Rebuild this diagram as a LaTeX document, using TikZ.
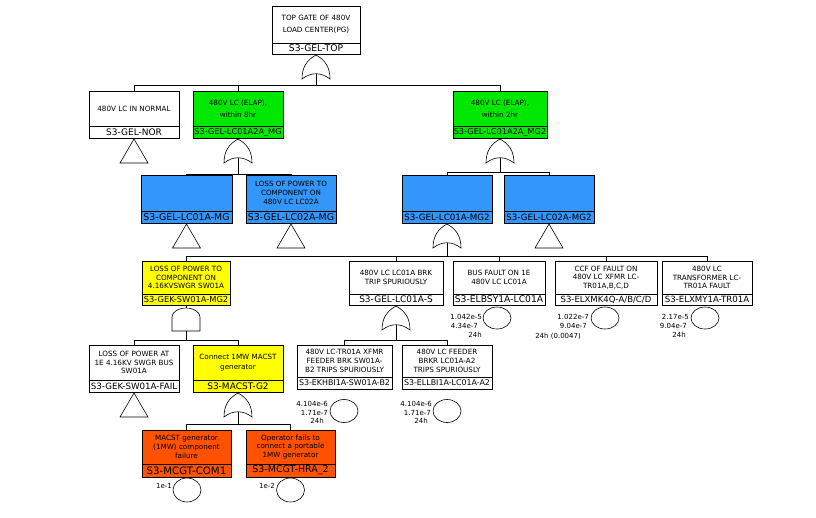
\documentclass[tikz,border=0pt]{standalone}
\usepackage{fontspec}
\setmainfont{DejaVu Sans}
\usetikzlibrary{shapes.geometric}
\definecolor{evgreen}{RGB}{0,232,0}
\definecolor{evblue}{RGB}{51,150,250}
\definecolor{evyellow}{RGB}{255,255,0}
\definecolor{evorange}{RGB}{255,82,0}
\newcommand\idf[1]{\fontsize{#1}{#1}\selectfont}
\tikzset{
  desc/.style={draw=black, line width=0.8pt, anchor=north, inner sep=0pt, outer sep=0pt,
    align=center, font=\fontsize{7.2}{8.7}\selectfont, minimum width=90, minimum height=35, fill=white},
  idb/.style={draw=black, line width=0.8pt, anchor=north, inner sep=0pt, outer sep=0pt,
    minimum width=90, minimum height=12, fill=white},
  gate/.style={draw=black, line width=0.6pt},
  conn/.style={draw=black, line width=0.8pt},
  be/.style={ellipse, draw=black, line width=0.6pt, minimum width=28, minimum height=22, inner sep=0pt},
  pl/.style={anchor=east, inner sep=0pt, font=\fontsize{7}{8}\selectfont},
}
% OR gate: #1 source node, #2 output coordinate name
\newcommand\orgate[2]{%
  \path ([yshift=-1pt]#1.south) coordinate (#2-in);
  \draw[gate, shift={(#2-in)}] (-14,24) .. controls (-14,12) and (-9,5) .. (0,0)
     .. controls (9,5) and (14,12) .. (14,24) .. controls (5,17) and (-5,17) .. cycle;
  \path (#2-in) ++(0,19) coordinate (#2);
  \draw[conn] (#1.south) -- (#2-in);
}
% AND gate
\newcommand\andgate[2]{%
  \path ([yshift=-3pt]#1.south) coordinate (#2-in);
  \draw[gate, shift={(#2-in)}] (-14,23) -- (-14,9) .. controls (-14,4) and (-7.7,0) .. (0,0)
     .. controls (7.7,0) and (14,4) .. (14,9) -- (14,23) -- cycle;
  \path (#2-in) ++(0,23) coordinate (#2);
  \draw[conn] (#1.south) -- (#2-in);
}
% transfer triangle
\newcommand\transfer[1]{%
  \draw[gate] ([yshift=-1pt]#1.south) -- ++(-14,24) -- ++(28,0) -- cycle;
}
\begin{document}
\begin{tikzpicture}[x=1pt,y=-1pt]
\path[use as bounding box] (0,0) rectangle (816,517);

% ---- level 0
\node[desc, minimum width=88, minimum height=37] (top) at (316,6) {TOP GATE OF 480V\\[3pt]LOAD CENTER(PG)};
\node[idb, minimum width=88, minimum height=11, font=\idf{9.2}] (top-id) at (top.south) {S3-GEL-TOP};

% ---- level 1
\node[desc] (nor) at (134,91) {480V LC IN NORMAL};
\node[idb, font=\idf{9}] (nor-id) at (nor.south) {S3-GEL-NOR};
\node[desc, fill=evgreen] (mg) at (238,91) {480V LC (ELAP),\\[3pt]within 8hr};
\node[idb, fill=evgreen, font=\idf{8.2}] (mg-id) at (mg.south) {S3-GEL-LC01A2A\_MG};
\node[desc, fill=evgreen, minimum width=94] (mgz) at (500,91) {480V LC (ELAP),\\[3pt]within 2hr};
\node[idb, fill=evgreen, minimum width=94, font=\idf{8.2}] (mgz-id) at (mgz.south) {S3-GEL-LC01A2A\_MG2};

% ---- level 2
\node[desc, fill=evblue, minimum width=91, minimum height=36] (lca) at (186.5,175) {};
\node[idb, fill=evblue, minimum width=91, font=\idf{9.4}] (lca-id) at (lca.south) {S3-GEL-LC01A-MG};
\node[desc, fill=evblue, minimum height=36] (lcb) at (291,175) {LOSS OF POWER TO\\COMPONENT ON\\480V LC LC02A};
\node[idb, fill=evblue, font=\idf{9.4}] (lcb-id) at (lcb.south) {S3-GEL-LC02A-MG};
\node[desc, fill=evblue, minimum height=36] (lcc) at (447,175) {};
\node[idb, fill=evblue, font=\idf{8.7}] (lcc-id) at (lcc.south) {S3-GEL-LC01A-MG2};
\node[desc, fill=evblue, minimum height=36] (lcd) at (549,175) {};
\node[idb, fill=evblue, font=\idf{8.7}] (lcd-id) at (lcd.south) {S3-GEL-LC02A-MG2};

% ---- level 3
\node[desc, fill=evyellow, minimum width=88, minimum height=33] (sw) at (186,261) {LOSS OF POWER TO\\COMPONENT ON\\4.16KVSWGR SW01A};
\node[idb, fill=evyellow, minimum width=88, minimum height=11, font=\idf{8.3}] (sw-id) at (sw.south) {S3-GEK-SW01A-MG2};
\node[desc, minimum width=94, minimum height=33] (lcs) at (396,261) {480V LC LC01A BRK\\[0.6pt]TRIP SPURIOUSLY};
\node[idb, minimum width=94, minimum height=11, font=\idf{9}] (lcs-id) at (lcs.south) {S3-GEL-LC01A-S};
\node[desc, minimum width=92, minimum height=33] (bus) at (499,261) {BUS FAULT ON 1E\\[0.6pt]480V LC LC01A};
\node[idb, minimum width=92, minimum height=11, font=\idf{9.2}] (bus-id) at (bus.south) {S3-ELBSY1A-LC01A};
\node[desc, minimum width=102, minimum height=33] (ccf) at (606,261) {CCF OF FAULT ON\\480V LC XFMR LC-\\TR01A,B,C,D};
\node[idb, minimum width=102, minimum height=11, font=\idf{8.5}] (ccf-id) at (ccf.south) {S3-ELXMK4Q-A/B/C/D};
\node[desc, minimum height=33] (xf) at (707,261) {480V LC\\TRANSFORMER LC-\\TR01A FAULT};
\node[idb, minimum height=11, font=\idf{8.6}] (xf-id) at (xf.south) {S3-ELXMY1A-TR01A};

% ---- level 4
\node[desc] (fail) at (134,345) {LOSS OF POWER AT\\1E 4.16KV SWGR BUS\\SW01A};
\node[idb, font=\idf{8.7}] (fail-id) at (fail.south) {S3-GEK-SW01A-FAIL};
\node[desc, fill=evyellow] (mac) at (238,345) {Connect 1MW MACST\\[1.3pt]generator};
\node[idb, fill=evyellow, font=\idf{9}] (mac-id) at (mac.south) {S3-MACST-G2};
\node[desc, minimum width=95, minimum height=32] (ekh) at (344.5,345) {480V LC-TR01A XFMR\\FEEDER BRK SW01A-\\B2 TRIPS SPURIOUSLY};
\node[idb, minimum width=95, font=\idf{7.9}] (ekh-id) at (ekh.south) {S3-EKHBI1A-SW01A-B2};
\node[desc, minimum height=32] (ell) at (447,345) {480V LC FEEDER\\BRKR LC01A-A2\\TRIPS SPURIOUSLY};
\node[idb, font=\idf{7.9}] (ell-id) at (ell.south) {S3-ELLBI1A-LC01A-A2};

% ---- level 5
\node[desc, fill=evorange, minimum width=89, minimum height=34] (com) at (186.5,430) {MACST generator\\(1MW) component\\failure};
\node[idb, fill=evorange, minimum width=89, minimum height=13, font=\idf{10.2}] (com-id) at (com.south) {S3-MCGT-COM1};
\node[desc, fill=evorange, minimum width=89, minimum height=34] (hra) at (290.5,430) {Operator fails to\\connect a portable\\1MW generator};
\node[idb, fill=evorange, minimum width=89, minimum height=13, font=\idf{9.5}] (hra-id) at (hra.south) {S3-MCGT-HRA\_2};

% ---- gates and transfers
\orgate{top-id}{top-o}
\orgate{mg-id}{mg-o}
\orgate{mgz-id}{mgz-o}
\orgate{lcc-id}{lcc-o}
\andgate{sw-id}{sw-o}
\orgate{lcs-id}{lcs-o}
\orgate{mac-id}{mac-o}
\transfer{nor-id}
\transfer{lca-id}
\transfer{lcb-id}
\transfer{lcd-id}
\transfer{fail-id}

% ---- connectors
\coordinate (b0) at (316,85);
\draw[conn] (top-o) -- (b0);
\foreach \c in {nor,mg,mgz} \draw[conn] (b0) -| (\c.north);
\coordinate (b1) at (238,174);
\draw[conn] (mg-o) -- (b1);
\foreach \c in {lca,lcb} \draw[conn] (b1) -| (\c.north);
\coordinate (b2) at (500,172);
\draw[conn] (mgz-o) -- (b2);
\foreach \c in {lcc,lcd} \draw[conn] (b2) -| (\c.north);
\coordinate (b3) at (447,256);
\draw[conn] (lcc-o) -- (b3);
\foreach \c in {sw,lcs,bus,ccf,xf} \draw[conn] (b3) -| (\c.north);
\coordinate (b4) at (186,340);
\draw[conn] (sw-o) -- (b4);
\foreach \c in {fail,mac} \draw[conn] (b4) -| (\c.north);
\coordinate (b5) at (396,340);
\draw[conn] (lcs-o) -- (b5);
\foreach \c in {ekh,ell} \draw[conn] (b5) -| (\c.north);
\coordinate (b6) at (238,424);
\draw[conn] (mac-o) -- (b6);
\foreach \c in {com,hra} \draw[conn] (b6) -| (\c.north);

% ---- basic events
\node[be] (c-bus) at (497,318) {};
\node[pl] (p-bus1) at (482,317) {1.042e-5};
\node[pl] (p-bus2) at (478,326) {4.34e-7};
\node[pl] (p-bus3) at (482,335) {24h};
\node[be] (c-ccf) at (605,318) {};
\node[pl] (p-ccf1) at (589,317) {1.022e-7};
\node[pl] (p-ccf2) at (587,326) {9.04e-7};
\node[pl] (p-ccf3) at (581,336) {24h (0.0047)};
\node[be] (c-xf) at (705,318) {};
\node[pl] (p-xf1) at (689,317) {2.17e-5};
\node[pl] (p-xf2) at (687,326) {9.04e-7};
\node[pl] (p-xf3) at (686,335) {24h};
\node[be, minimum height=23] (c-ekh) at (344,411) {};
\node[pl] (p-ekh1) at (328,404) {4.104e-6};
\node[pl] (p-ekh2) at (328,413) {1.71e-7};
\node[pl] (p-ekh3) at (324,421) {24h};
\node[be, minimum height=23] (c-ell) at (447,411) {};
\node[pl] (p-ell1) at (432,404) {4.104e-6};
\node[pl] (p-ell2) at (431,413) {1.71e-7};
\node[pl] (p-ell3) at (428,421) {24h};
\node[be, minimum height=24] (c-com) at (187,490) {};
\node[pl] (p-com) at (172,486) {1e-1};
\node[be, minimum height=24] (c-hra) at (290.5,490) {};
\node[pl] (p-hra) at (275,486) {1e-2};
\end{tikzpicture}
\end{document}
